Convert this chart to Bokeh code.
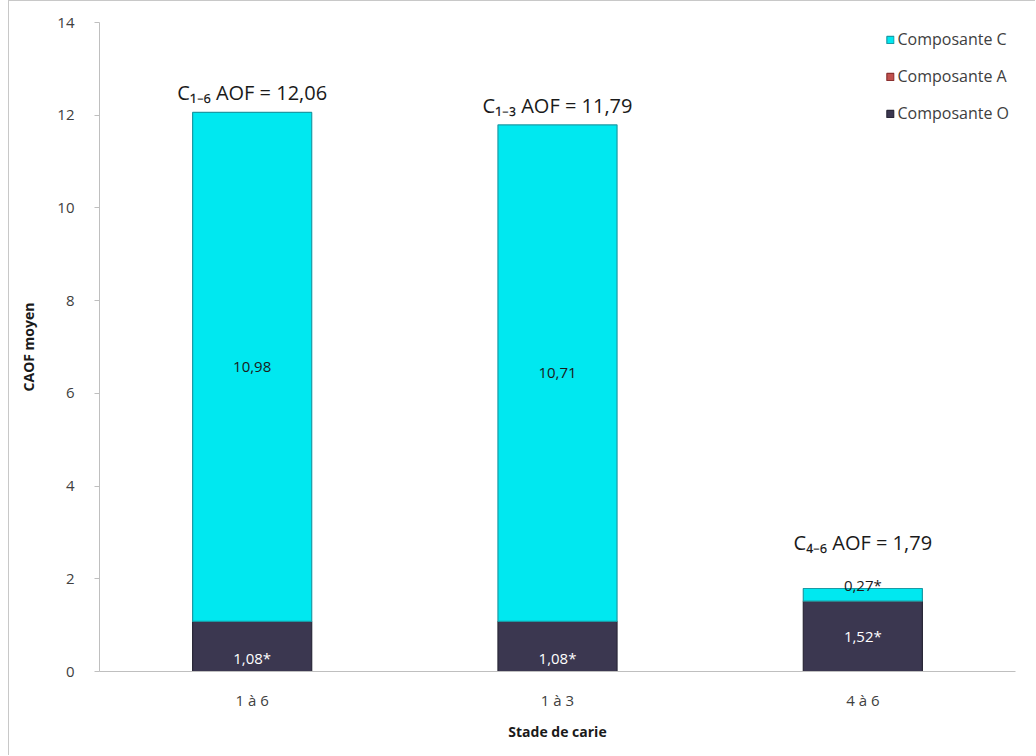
from bokeh.plotting import figure
from bokeh.models import ColumnDataSource, FactorRange, Legend, LegendItem, FixedTicker
from bokeh.core.properties import value
from bokeh.embed import file_html
from bokeh.resources import INLINE

# ---- data ----
categories = ["1 à 6", "1 à 3", "4 à 6"]
comp_O = [1.08, 1.08, 1.52]
comp_A = [0.0, 0.0, 0.0]
comp_C = [10.98, 10.71, 0.27]
totals = [12.06, 11.79, 1.79]
total_labels = ["C₁₋₆ AOF = 12,06", "C₁₋₃ AOF = 11,79", "C₄₋₆ AOF = 1,79"]
O_labels = ["1,08*", "1,08*", "1,52*"]
C_labels = ["10,98", "10,71", "0,27*"]
y_ticks = [0, 2, 4, 6, 8, 10, 12, 14]

FONT = "Open Sans"
COL_C = "#00e8f0"
COL_A = "#c0504d"
COL_O = "#3b3750"

p = figure(x_range=FactorRange(*categories, range_padding=0), y_range=(0, 14),
           width=1027, height=755, output_backend="svg", toolbar_location=None,
           min_border_left=90, min_border_right=21, min_border_top=21, min_border_bottom=85)
p.styles = {"margin-left": "8px", "border-left": "1px solid #c8c8c8",
            "border-top": "1px solid #c8c8c8"}
p.outline_line_color = None
p.xgrid.grid_line_color = None
p.ygrid.grid_line_color = None

# small bars get their total label raised above the C label
tot_off = [-6 if c > 1 else -33 for c in comp_C]
o_off = [12 if o < 1.3 else 0 for o in comp_O]
src = ColumnDataSource(dict(cat=categories, O=comp_O, A=comp_A, C=comp_C, tot=totals,
                            tlab=total_labels, olab=O_labels, clab=C_labels,
                            toff=tot_off, ooff=o_off,
                            omid=[o / 2 for o in comp_O],
                            cmid=[o + a + c / 2 for o, a, c in zip(comp_O, comp_A, comp_C)]))

rs = p.vbar_stack(["O", "A", "C"], x="cat", width=0.39, source=src,
                  color=[COL_O, COL_A, COL_C],
                  line_color=["#2a2838", "#8a3030", "#1a9aa5"], line_width=1.2)

p.text(x="cat", y="tot", text="tlab", source=src, text_align="center", text_baseline="bottom",
       y_offset="toff", text_font=value(FONT), text_font_size="20px", text_color="#1a1a1a")
p.text(x="cat", y="omid", text="olab", source=src, text_align="center", text_baseline="middle",
       y_offset="ooff", text_font=value(FONT), text_font_size="15px", text_color="#ffffff")
inside = ColumnDataSource(dict(cat=categories[:2], y=src.data["cmid"][:2], t=C_labels[:2]))
above = ColumnDataSource(dict(cat=categories[2:], y=totals[2:], t=C_labels[2:]))
p.text(x="cat", y="y", text="t", source=inside, text_align="center", text_baseline="middle",
       text_font=value(FONT), text_font_size="15px", text_color="#1a1a1a")
p.text(x="cat", y="y", text="t", source=above, text_align="center", text_baseline="middle",
       y_offset=-4, text_font=value(FONT), text_font_size="15px", text_color="#1a1a1a")

for ax in (p.xaxis[0], p.yaxis[0]):
    ax.axis_line_color = "#bfbfbf"
    ax.major_tick_line_color = "#bfbfbf"
    ax.minor_tick_line_color = None
    ax.major_label_text_font = FONT
    ax.major_label_text_font_size = "15px"
    ax.major_label_text_color = "#404040"
    ax.axis_label_text_font = FONT
    ax.axis_label_text_font_size = "14px"
    ax.axis_label_text_font_style = "bold"
    ax.axis_label_text_color = "#1a1a1a"
p.yaxis.ticker = FixedTicker(ticks=y_ticks)
p.yaxis.major_tick_out = 5
p.yaxis.major_tick_in = 0
p.yaxis.major_label_standoff = 20
p.yaxis.axis_label_standoff = 16
p.yaxis.axis_label = "CAOF moyen"
p.xaxis.axis_label = "Stade de carie"
p.xaxis.major_tick_out = 0
p.xaxis.major_tick_in = 0
p.xaxis.major_label_standoff = 18
p.xaxis.axis_label_standoff = 9

legend = Legend(items=[LegendItem(label="Composante C", renderers=[rs[2]]),
                       LegendItem(label="Composante A", renderers=[rs[1]]),
                       LegendItem(label="Composante O", renderers=[rs[0]])],
                location="top_right", border_line_color=None, background_fill_alpha=0,
                label_text_font=FONT, label_text_font_size="16px", label_text_color="#404040",
                glyph_width=9, glyph_height=9, spacing=15, label_standoff=3,
                margin=6, padding=4)
p.add_layout(legend)

open("out.html", "w").write(file_html(p, INLINE))
